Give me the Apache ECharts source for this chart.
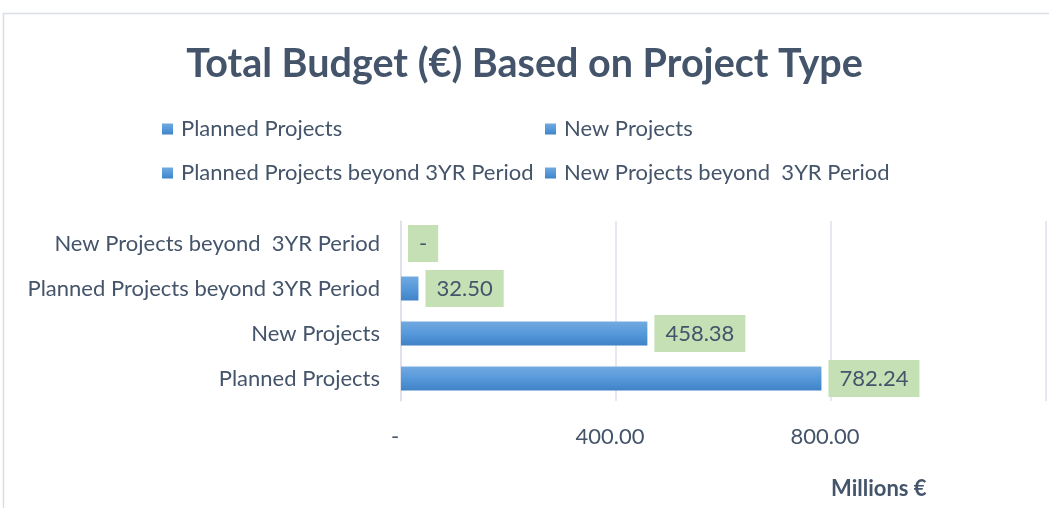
<!DOCTYPE html>
<html>
<head>
<meta charset="utf-8">
<script src="https://cdn.jsdelivr.net/npm/echarts@6/dist/echarts.min.js"></script>
<style>
    html, body { margin: 0; padding: 0; background: #fff; }
    #main { width: 1049px; height: 508px; }
</style>
</head>
<body>
<div id="main"></div>
<script>
    // categories, bottom to top
    var categories = ['Planned Projects', 'New Projects', 'Planned Projects beyond 3YR Period', 'New Projects beyond  3YR Period'];
    var budgetValues = [782.24, 458.38, 32.50, 0];
    var xTicks = [0, 400, 800, 1200];

    var textColor = '#44546A';
    var font = 'Lato';
    var barGradient = new echarts.graphic.LinearGradient(0, 0, 0, 1, [
        {offset: 0, color: '#72A9E0'},
        {offset: 0.5, color: '#5699DB'},
        {offset: 1, color: '#3F82C6'}
    ]);

    var myChart = echarts.init(document.getElementById('main'));

    // one series per category so that each shows up in the legend
    var series = [];
    for (var i = 0; i < categories.length; i++) {
        var data = [];
        for (var j = 0; j < categories.length; j++) {
            data.push(j === i ? budgetValues[i] : '-');
        }
        series.push({
            name: categories[i],
            type: 'bar',
            data: data,
            barWidth: 24,
            barGap: '-100%',
            itemStyle: {color: barGradient},
            label: {
                show: true,
                position: 'right',
                distance: 7,
                formatter: function (p) {
                    return p.value === 0 ? '-' : p.value.toFixed(2);
                },
                color: textColor,
                fontFamily: font,
                fontSize: 22,
                lineHeight: 22,
                backgroundColor: '#C5E0B4',
                padding: [8, 11, 7, 11]
            }
        });
    }

    var legendCommon = {
        orient: 'vertical',
        itemGap: 22,
        itemWidth: 11,
        itemHeight: 11,
        icon: 'rect',
        textStyle: {color: textColor, fontFamily: font, fontSize: 22, padding: [0, 0, 0, 3]}
    };

    var option = {
        backgroundColor: '#fff',
        animation: false,
        title: {
            text: 'Total Budget (€) Based on Project Type',
            left: 'center',
            top: 39,
            textStyle: {color: textColor, fontFamily: font, fontSize: 39.5, fontWeight: 'bold'}
        },
        legend: [
            Object.assign({left: 157, top: 113, data: [categories[0], categories[2]]}, legendCommon),
            Object.assign({left: 540, top: 113, data: [categories[1], categories[3]]}, legendCommon)
        ],
        grid: {
            left: 401,
            top: 221,
            width: 650,
            height: 180,
            containLabel: false
        },
        xAxis: {
            type: 'value',
            min: xTicks[0],
            max: xTicks[xTicks.length - 1],
            interval: 400,
            axisLine: {show: false},
            axisTick: {show: false},
            splitLine: {lineStyle: {color: '#DCE1E8', width: 1.5}},
            axisLabel: {
                margin: 25,
                color: textColor,
                fontFamily: font,
                fontSize: 22,
                padding: [0, 12, 0, 0],
                formatter: function (v) {
                    if (v === 0) return '-';
                    if (v === 1200) return '';
                    return v.toFixed(2);
                }
            }
        },
        yAxis: {
            type: 'category',
            data: categories,
            axisLine: {show: true, lineStyle: {color: '#DCE1E8', width: 1.5}},
            axisTick: {show: false},
            axisLabel: {
                margin: 21,
                color: textColor,
                fontFamily: font,
                fontSize: 22
            }
        },
        graphic: [
            {
                type: 'rect',
                shape: {x: 3.5, y: 13.5, width: 1100, height: 600},
                style: {fill: 'none', stroke: '#D9DEE5', lineWidth: 1.5},
                silent: true
            },
            {
                type: 'text',
                left: 831,
                top: 478,
                style: {text: 'Millions €', fill: textColor, font: 'bold 22px Lato'}
            }
        ],
        series: series
    };

    myChart.setOption(option);
</script>
</body>
</html>
